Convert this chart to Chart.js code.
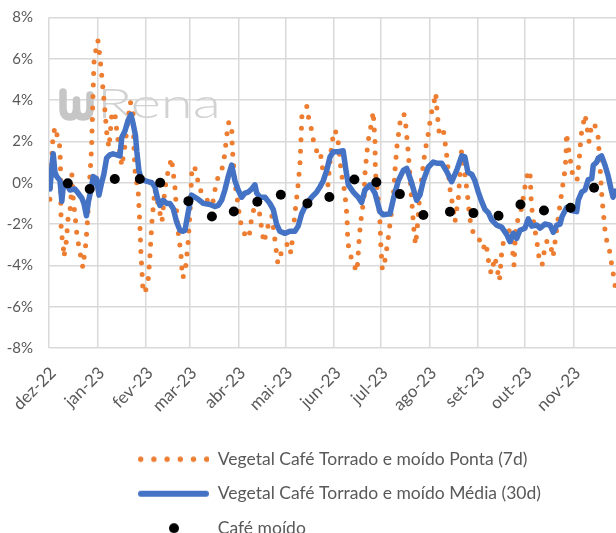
<!DOCTYPE html>
<html>
<head>
<meta charset="utf-8">
<script src="https://cdn.jsdelivr.net/npm/chart.js@4/dist/chart.umd.min.js"></script>
<style>
html,body{margin:0;padding:0;background:#fff;}
#wrap{width:616px;height:533px;position:relative;}
</style>
</head>
<body>
<div id="wrap"><canvas id="c" width="616" height="533"></canvas></div>
<script>
// ---- Data (day offsets counted from 1 Dec 2022) ----
const monthLabels = ['dez-22','jan-23','fev-23','mar-23','abr-23','mai-23','jun-23','jul-23','ago-23','set-23','out-23','nov-23'];
const monthStartDays = [0,31,62,90,121,151,182,212,243,274,304,335];
const lastDay = 362;

const seriesNames = [
  'Vegetal Café Torrado e moído Ponta (7d)',
  'Vegetal Café Torrado e moído Média (30d)',
  'Café moído'
];

const pontaDays = [0.6,2.5,3.8,5.7,7,7.4,7.6,7.8,9.1,9.5,
  10.8,11.4,12.3,13.3,14.4,14.6,15.5,16.5,17.8,19.1,
  21.6,23.6,24.8,26.1,27.2,28,28.7,29.6,31.2,32.5,
  34.4,35.7,37,38.3,40.2,42,43.3,45.3,46.5,48.5,
  50.4,52,53.6,54.2,54.9,57,58,58.7,60,61.2,
  63.2,64.4,65.7,67.6,69.5,72.1,74,75.9,78.2,80.4,
  82.3,84.2,85.2,86.8,88.7,90,91.3,93.2,96.4,99.5,
  102.7,104.7,107,110.2,111.7,113.4,114.4,116.6,117,118.7,
  120.6,121.9,123.8,126.4,128.3,129.6,133.4,135.9,137.2,139.8,
  142.3,144.3,146.1,148.7,150.6,152.5,154.5,157,158.9,160.2,
  160.9,161.5,164.7,166,167.9,169.1,171.1,173,174.3,176.2,
  178.1,180,181.9,183.8,185.1,186.4,188.9,190.2,190.8,192.1,
  194.1,196.6,197.2,198.2,199.8,201.1,201.7,203,204.3,206,
  207,208.1,208.4,210,211.3,211.9,212.8,214.2,216.4,217.7,
  219,220.2,220.9,222.2,224.1,226.6,227.9,229.2,230.4,231.7,
  233,234,234.9,236.8,240,242,243.9,245.8,246.9,247.7,
  249,251.5,252.8,254.1,256,257.3,259.2,261.4,263.3,264.9,
  266.9,268.1,269.4,271.3,273.9,277.1,279,281,282.3,284.7,
  287.6,289.2,292.4,294.9,296.9,298.1,300.7,302.6,304.5,306.1,
  307.1,308,309.6,311.6,312.8,314.8,316,318,319.9,321.8,
  323.7,325.6,327.5,329.4,330.1,330.4,332,334.5,337.1,338.4,
  339.7,342.2,343.5,344.8,346,348,350.5,351.1,351.8,353.1,
  355,356.3,358.2,359.5,360.7,362];
const pontaValues = [-0.8,2.2,2.7,2.15,1.7,0.5,-1.3,-2.4,-3.0,-3.6,
  -3.0,-2.5,-1.6,-1.5,-0.3,0.4,-0.8,-1.5,-2.5,-3.1,
  -4.1,-2.9,-1.6,0.3,1.7,4.0,5.8,6.3,6.9,6.1,
  4.6,3.5,2.3,1.7,3.4,3.4,2.5,1.4,0.8,1.8,
  3.0,3.9,3.5,1.8,0.6,-0.5,-2.0,-3.4,-5.2,-5.35,
  -4.8,-3.6,-1.9,-0.3,-1.0,-1.9,-0.3,0.5,1.2,-0.2,
  -2.3,-3.4,-4.6,-4.4,-3.0,-1.5,0.8,0.7,-0.35,-0.6,
  -1.1,-0.9,0.1,0.6,1.1,2.2,2.9,2.9,1.7,0.0,
  -1.0,-1.8,-2.3,-2.7,-2.4,-1.5,-0.9,-2.3,-2.9,-2.1,
  -1.6,-2.8,-3.9,-3.3,-3.2,-2.9,-3.4,-1.5,-0.2,0.9,
  2.1,3.3,3.7,3.0,2.5,1.9,1.5,1.6,0.9,-0.2,
  -0.1,1.5,2.55,2.4,1.7,0.6,-0.5,-1.6,-2.9,-3.4,
  -3.9,-4.3,-3.7,-2.5,-1.4,-0.8,0.4,1.5,2.3,2.9,
  3.45,2.0,0.5,-0.6,-1.9,-3.1,-4.2,-3.9,-2.8,-2.0,
  -1.2,-0.3,0.6,1.8,2.9,3.35,2.7,1.6,0.4,-1.0,
  -2.3,-3.0,-2.4,-0.5,1.5,2.3,3.3,3.9,4.35,3.5,
  2.5,2.7,2.0,1.2,-0.3,-0.9,-1.9,-0.7,1.5,0.8,
  -0.4,-1.3,-2.1,-2.5,-2.6,-3.2,-2.9,-4.0,-4.4,-3.6,
  -4.75,-3.2,-2.1,-2.5,-4.0,-2.0,-1.6,-0.8,0.1,0.6,
  0.5,-1.1,-2.0,-2.9,-3.6,-4.0,-3.4,-2.8,-2.9,-3.6,
  -2.5,-1.4,-0.4,0.6,1.3,2.4,1.5,0.3,0.1,1.0,
  2.3,3.3,2.7,2.0,2.6,2.9,2.3,1.6,0.8,-0.8,
  -2.3,-2.9,-3.4,-4.1,-4.6,-5.3];

const mediaDays = [0.6,1.5,2.7,3.8,5,7,8.2,9.2,10.8,13.3,
  16.5,18.6,21,22.3,23.9,25.2,27.2,28.2,30.3,31.9,
  33.6,35,36.8,38.9,40.8,43.3,45.3,46.5,48.5,50.4,
  52.3,53.6,55.2,56.1,57.4,58.7,61.2,63.3,65.7,67.6,
  69.1,70.8,72.9,75.1,77.2,79.3,81.5,83.6,85.5,86.8,
  88.7,91,95.3,98.5,102.7,105.9,108,110.2,112.3,114.4,
  116.6,118.7,120.8,123,125.1,127.2,129.4,131.5,132.6,134.7,
  137.9,141,143.2,145.3,147.4,150.6,153.8,157,159.1,161.3,
  164.5,167.7,170.9,173,175.1,177.3,179.4,181.5,184.7,187.8,
  189.6,191.1,194.3,197.4,199.6,201.7,204.9,208.1,211.3,213.4,
  217.7,219.8,223,226.2,228.4,231.5,234.7,236.8,239,242.1,
  245.3,247.5,250.7,253.9,257.1,260.3,263.5,265.5,267.5,270,
  271.9,274.1,276.2,278.4,280.5,282.6,285.8,289,292.2,294.3,
  296.4,298.6,300.7,303.9,306,308.2,311.4,313.5,316.6,319.9,
  322,324.2,326.3,327.5,330.5,333.7,336.9,337.9,340.1,342.2,
  344.3,346.5,347.5,349.7,350.7,352.8,355,357.1,358.8,360.1,
  361.4];
const mediaValues = [-0.3,0.5,1.4,0.5,0.3,0.1,-0.9,-0.1,0.0,-0.35,
  -0.3,-0.5,-0.75,-1.0,-1.6,-0.9,-0.2,0.3,0.2,-0.6,
  0.0,0.4,1.2,1.35,1.4,1.35,1.3,2.2,2.5,3.0,
  3.3,2.9,2.3,1.5,0.6,0.2,0.1,0.05,0.0,-0.2,
  -0.7,-1.1,-0.85,-1.0,-1.0,-1.25,-1.9,-2.3,-2.35,-2.3,
  -1.5,-0.6,-0.8,-1.0,-1.05,-1.15,-1.1,-0.85,-0.35,0.3,
  0.85,0.1,-0.35,-0.7,-0.5,-0.45,-0.3,-0.1,-0.5,-0.7,
  -0.7,-1.0,-1.3,-2.0,-2.35,-2.45,-2.35,-2.35,-2.1,-1.5,
  -1.0,-0.7,-0.45,-0.2,0.1,0.6,1.25,1.5,1.5,1.55,
  0.6,-0.1,-0.45,-0.7,-0.95,-0.35,-0.1,-0.5,-1.4,-1.55,
  -1.5,-0.8,0.1,0.6,0.7,0.0,-0.85,-0.6,0.1,0.75,
  1.0,0.95,0.95,0.55,0.05,0.6,1.3,1.25,0.5,0.4,
  0.1,-0.45,-0.9,-1.3,-1.45,-1.8,-2.05,-2.15,-2.5,-2.85,
  -2.45,-2.7,-2.3,-2.2,-1.75,-2.1,-2.05,-2.2,-2.0,-2.05,
  -2.4,-2.05,-2.0,-1.65,-1.2,-1.35,-1.4,-0.85,-0.45,-0.35,
  0.15,0.2,0.85,1.0,1.2,1.3,0.85,0.3,-0.3,-0.7,
  -0.4];

const moidoDays = [12,26,42,58,71,89,104,118,133,148,165,179,195,209,224,239,256,271,287,301,316,333,348];
const moidoValues = [-0.03,-0.3,0.18,0.18,0.0,-0.89,-1.63,-1.39,-0.92,-0.58,-1.0,-0.69,0.16,0.02,-0.55,-1.56,-1.4,-1.47,-1.6,-1.05,-1.34,-1.21,-0.24];

const yTicks = [-8,-6,-4,-2,0,2,4,6,8];

// ---- Styles ----
const ORANGE = '#ED7D31', BLUE = '#4472C4', TEXT = '#595959', GRID = '#D9D9D9';
const FONT = 'Lato, "Liberation Sans", sans-serif';
Chart.defaults.font.family = FONT;
Chart.defaults.color = TEXT;

const toXY = (xs, ys) => xs.map((x, i) => ({x: x, y: ys[i]}));

function makeSymbol(kind) {
  const c = document.createElement('canvas');
  c.width = 71; c.height = 14;
  const g = c.getContext('2d');
  if (kind === 'dots') {
    g.fillStyle = ORANGE;
    for (let i = 0; i < 6; i++) { g.beginPath(); g.arc(2.7 + i * 13.2, 7, 2.7, 0, Math.PI * 2); g.fill(); }
  } else if (kind === 'line') {
    g.strokeStyle = BLUE; g.lineWidth = 6; g.lineCap = 'round';
    g.beginPath(); g.moveTo(3, 7); g.lineTo(68, 7); g.stroke();
  } else {
    g.fillStyle = '#000';
    g.beginPath(); g.arc(36, 7, 5, 0, Math.PI * 2); g.fill();
  }
  return c;
}
const legendSymbols = [makeSymbol('dots'), makeSymbol('line'), makeSymbol('dot')];

const layoutFix = {
  id: 'layoutFix',
  beforeLayout(chart) {
    const lg = chart.legend;
    if (lg && !lg._fixed) {
      const orig = lg.fit.bind(lg);
      lg.fit = function () { orig(); this.height = 112; };
      lg._fixed = true;
    }
  },
  afterLayout(chart) {
    const lg = chart.legend;
    if (lg) { lg.left = 121; lg.top = 433.5; lg.bottom = lg.top + lg.height; }
  }
};

const watermark = {
  id: 'watermark',
  beforeDatasetsDraw(chart) {
    const ctx = chart.ctx;
    ctx.save();
    ctx.strokeStyle = '#c6c6c6';
    ctx.lineWidth = 7.5;
    ctx.lineCap = 'round';
    ctx.lineJoin = 'round';
    ctx.beginPath();
    ctx.moveTo(63, 92); ctx.lineTo(63, 108);
    ctx.quadraticCurveTo(63, 117, 70, 117);
    ctx.quadraticCurveTo(76.5, 117, 76.5, 108);
    ctx.lineTo(76.5, 100);
    ctx.moveTo(76.5, 108);
    ctx.quadraticCurveTo(76.5, 117, 83, 117);
    ctx.quadraticCurveTo(90, 117, 90, 108);
    ctx.lineTo(90, 95);
    ctx.stroke();
    ctx.fillStyle = '#d2d2d2';
    ctx.font = '300 40px ' + FONT;
    ctx.textBaseline = 'alphabetic';
    const w = ctx.measureText('Rena').width;
    ctx.translate(97, 118);
    ctx.scale(124 / w, 1.05);
    ctx.fillText('Rena', 0, 0);
    ctx.restore();
  }
};

new Chart(document.getElementById('c'), {
  type: 'line',
  data: {
    datasets: [
      {
        label: seriesNames[0],
        data: toXY(pontaDays, pontaValues),
        borderColor: ORANGE,
        backgroundColor: ORANGE,
        borderWidth: 5,
        borderDash: [0, 11.5],
        borderCapStyle: 'round',
        borderJoinStyle: 'round',
        pointRadius: 0,
        tension: 0,
        order: 2
      },
      {
        label: seriesNames[1],
        data: toXY(mediaDays, mediaValues),
        borderColor: BLUE,
        backgroundColor: BLUE,
        borderWidth: 5.5,
        borderJoinStyle: 'round',
        borderCapStyle: 'round',
        pointRadius: 0,
        tension: 0,
        order: 1
      },
      {
        label: seriesNames[2],
        data: toXY(moidoDays, moidoValues),
        showLine: false,
        pointRadius: 5,
        pointBackgroundColor: '#000',
        pointBorderColor: '#000',
        pointBorderWidth: 0,
        order: 0
      }
    ]
  },
  options: {
    responsive: false,
    animation: false,
    events: [],
    layout: { autoPadding: false, padding: { top: 17.5, right: 0, bottom: 0, left: 0 } },
    scales: {
      x: {
        type: 'linear',
        min: 0,
        max: lastDay,
        afterBuildTicks: (scale) => { scale.ticks = monthStartDays.map(v => ({ value: v })); },
        afterFit: (scale) => { scale.height = 73; scale.paddingLeft = 0; scale.paddingRight = 0; },
        ticks: {
          autoSkip: false,
          minRotation: 45,
          maxRotation: 45,
          padding: 15,
          labelOffset: 4,
          color: TEXT,
          font: { size: 17 },
          callback: (value, index) => monthLabels[index]
        },
        grid: { color: GRID, lineWidth: 1.5, drawTicks: false },
        border: { display: false }
      },
      y: {
        min: -8,
        max: 8,
        afterBuildTicks: (scale) => { scale.ticks = yTicks.map(v => ({ value: v })); },
        afterFit: (scale) => { scale.width = 49; scale.paddingTop = 0; scale.paddingBottom = 0; },
        ticks: {
          padding: 16,
          color: TEXT,
          font: { size: 15 },
          callback: (v) => v + '%'
        },
        grid: { color: GRID, lineWidth: 1.5, drawTicks: false },
        border: { display: false }
      }
    },
    plugins: {
      tooltip: { enabled: false },
      legend: {
        position: 'bottom',
        align: 'start',
        labels: {
          usePointStyle: true,
          pointStyleWidth: 71,
          boxHeight: 14,
          padding: 17,
          color: TEXT,
          font: { size: 17.5 },
          generateLabels: () => seriesNames.map((name, i) => ({
            text: name,
            pointStyle: legendSymbols[i],
            fillStyle: 'rgba(0,0,0,0)',
            strokeStyle: 'rgba(0,0,0,0)',
            lineWidth: 0,
            fontColor: TEXT,
            hidden: false,
            datasetIndex: i
          }))
        }
      }
    }
  },
  plugins: [layoutFix, watermark]
});
</script>
</body>
</html>
